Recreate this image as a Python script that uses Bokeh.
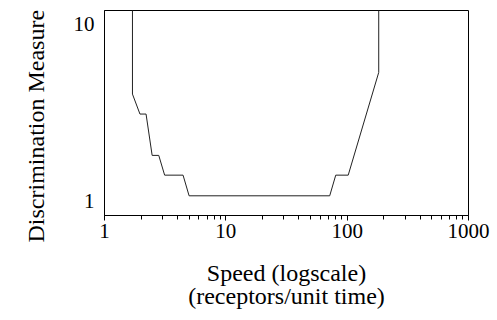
from bokeh.plotting import figure
from bokeh.models import FixedTicker, Range1d, Title
from bokeh.embed import file_html
from bokeh.resources import INLINE

# Data (speed in receptors/unit time, discrimination measure)
speed = [1.70, 1.70, 1.96, 2.20, 2.47, 2.80, 3.13, 4.44, 4.98, 71.8, 80.5, 102.0, 182.0, 182.0]
measure = [20.0, 4.02, 3.10, 3.10, 1.81, 1.81, 1.40, 1.40, 1.07, 1.07, 1.40, 1.40, 5.33, 20.0]

x_major = [1, 10, 100, 1000]
x_labels = ["1", "10", "100", "1000"]
x_minor = [2, 3, 4, 5, 6, 7, 8, 9,
           20, 30, 40, 50, 60, 70, 80, 90,
           200, 300, 400, 500, 600, 700, 800, 900]
y_major = [1, 10]
y_labels = ["1", "10"]
y_title = "Discrimination Measure"

FONT = "Liberation Serif"

p = figure(width=497, height=320, x_axis_type="log", y_axis_type="log",
           x_range=Range1d(1, 1000), y_range=Range1d(0.828, 11.93),
           output_backend="svg", toolbar_location=None,
           min_border_left=104, min_border_right=29,
           min_border_top=10, min_border_bottom=105)

p.line(speed, measure, line_color="#222222", line_width=1)

p.xgrid.visible = False
p.ygrid.visible = False
p.outline_line_color = "black"
p.outline_line_width = 1
p.background_fill_color = "white"
p.border_fill_color = "white"

xa = p.xaxis[0]
xa.ticker = FixedTicker(ticks=x_major, minor_ticks=x_minor)
xa.major_label_overrides = {t: s for t, s in zip(x_major, x_labels)}
xa.major_tick_out = 5
xa.major_tick_in = 0
xa.minor_tick_out = 4
xa.minor_tick_in = 0
xa.major_label_standoff = 3
xa.major_label_text_font = FONT
xa.major_label_text_font_size = "21px"
xa.major_label_text_color = "black"
xa.axis_label = "Speed (logscale)\n(receptors/unit time)"
xa.axis_label_text_font = FONT
xa.axis_label_text_font_size = "24px"
xa.axis_label_text_font_style = "normal"
xa.axis_label_text_color = "black"
xa.axis_label_standoff = 19
xa.axis_label_text_line_height = 0.9
xa.axis_line_color = "black"
xa.major_tick_line_color = "black"
xa.minor_tick_line_color = "black"

ya = p.yaxis[0]
ya.ticker = FixedTicker(ticks=y_major, minor_ticks=[])
ya.major_label_overrides = {t: s for t, s in zip(y_major, y_labels)}
ya.major_tick_out = 0
ya.major_tick_in = 0
ya.minor_tick_out = 0
ya.minor_tick_in = 0
ya.major_label_standoff = 10
ya.major_label_text_font = FONT
ya.major_label_text_font_size = "21px"
ya.major_label_text_color = "black"
ya.axis_line_color = "black"

ytitle = Title(text=y_title, align="left", offset=-27, standoff=40,
               vertical_align="top",
               text_font=FONT, text_font_size="24px",
               text_font_style="normal", text_color="black")
p.add_layout(ytitle, "left")

open("out.html", "w").write(file_html(p, INLINE))
